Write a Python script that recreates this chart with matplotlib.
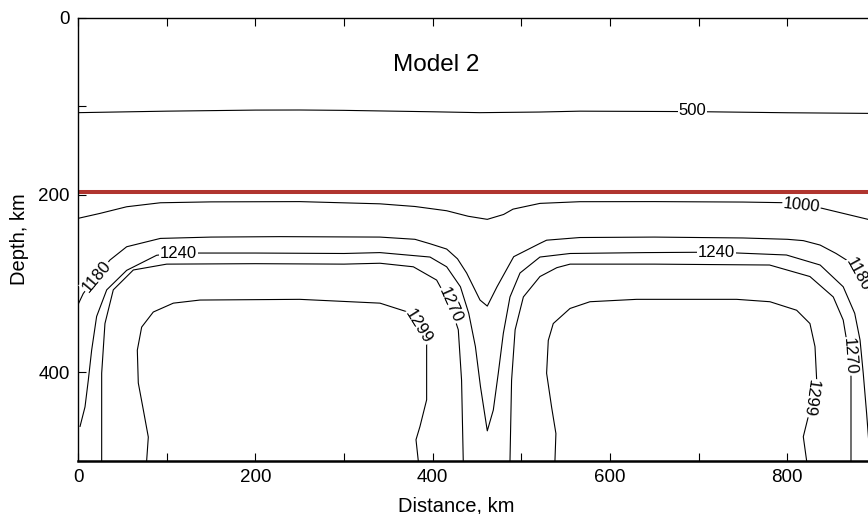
import matplotlib
matplotlib.use('Agg')
import matplotlib.pyplot as plt
from matplotlib.ticker import MultipleLocator

plt.rcParams['font.family'] = ['Liberation Sans', 'DejaVu Sans']

# contour lines: distance (km), depth (km)
c500_x = [0, 100, 200, 250, 300, 400, 453, 520, 566, 693, 800, 891, 900]
c500_d = [107.2, 105.5, 104.3, 104.2, 104.6, 106.2, 107.2, 106.5, 105.5, 106, 107.3, 108, 108.3]

c1000_x = [0, 24.8, 54.9, 92.9, 150, 250, 340.6, 380, 415.8, 440, 461.6, 480, 490.6, 521, 566,
           650, 750, 795, 816, 839, 891, 900]
c1000_d = [226.4, 220.8, 213.3, 208.8, 207.8, 207.5, 210, 213, 217.8, 224, 227.5, 222, 216, 209.5,
           207.6, 207.5, 208, 208.7, 211.5, 215, 227.5, 229.5]

c1180_x = [0.8, 6, 21, 36, 54.9, 92.9, 150, 228, 340.6, 380, 397, 415.8, 428, 438.3, 453.4, 461.6,
           472.6, 491.4, 521, 528.5, 566, 650, 750, 800, 818, 837, 855, 866.8, 878, 891, 900]
c1180_d = [322, 311, 292, 273.4, 258.4, 249, 247.5, 247, 247.5, 250, 255, 261, 272, 288, 318.5, 325.3,
           303.5, 269.6, 254.6, 251, 248, 247.5, 248.5, 250, 251.5, 256.5, 266, 273.4, 288, 307, 322]

c1240_x = [2.3, 7.9, 11.6, 15.4, 21, 32.4, 54.9, 88.7, 113, 200, 300, 340.6, 397, 415.8, 431.3,
           440.7, 448.2, 453.9, 461.6, 468.4, 474, 479.7, 487.2, 498.5, 521, 555, 640, 720, 799,
           837, 863, 876, 882, 885.6, 889.4, 892, 894]
c1240_d = [461, 439, 409, 375, 337, 307, 285, 268, 265.5, 265.5, 266, 265, 270, 281, 303.5,
           333.5, 371, 416, 466, 442.5, 401, 356, 315, 288, 270, 266, 265, 264.5, 267.7,
           279, 303.5, 333.5, 363.6, 401, 446, 480, 500]

c1270a_x = [26.7, 26.7, 30.4, 39.8, 62.4, 100, 200, 300, 340.6, 378.2, 404.5, 419.7, 428.9, 432.6, 434.5]
c1270a_d = [500, 401, 345, 307, 284.6, 278, 277.5, 278, 277, 281, 296, 324, 352, 409, 500]
c1270b_x = [487.2, 489, 493, 502.3, 521, 540, 555, 650, 780, 825.5, 851.8, 863, 869.9, 871.8, 871.8]
c1270b_d = [500, 409, 352, 315, 292, 282, 278, 278, 279, 292, 315, 341, 382, 405, 500]

c1299a_x = [77.4, 79.3, 73.7, 68, 66.9, 71.8, 84.9, 107.5, 137.6, 250, 340.6, 370.6, 383.8, 393.2,
            393.2, 385.7, 381.2, 383.8]
c1299a_d = [500, 473, 442.5, 412, 375, 349, 332, 322, 318.5, 317.7, 322, 331.6, 348.6, 367.3,
            431, 461, 476, 500]
c1299b_x = [537.9, 539, 534.1, 528.5, 530.4, 536, 554.9, 577.4, 630, 742.8, 780.4, 810.5, 825.5,
            831.2, 833.1, 828, 823.6, 818, 821.8]
c1299b_d = [500, 469, 439, 401, 364, 345, 328, 320.4, 317.7, 317.7, 320.4, 330, 345, 371, 409,
            429, 450, 472.6, 500]

# inline contour labels: text, distance, depth, angle
label_text = ['500', '1000', '1180', '1180', '1240', '1240', '1270', '1270', '1299', '1299']
label_x = [693, 816, 21, 880, 113, 720, 419.7, 869.9, 383.8, 826.5]
label_d = [105, 211.5, 292, 290, 265.5, 264.5, 324, 382, 348.6, 429]
label_rot = [0, -6, 50, -61, 0, 0, -66, -86, -58, -98]

moho_depth = 196.5

fig = plt.figure(figsize=(8.68, 5.14), dpi=100)
ax = fig.add_axes([78 / 868, 53 / 514, 798 / 868, 443.4 / 514])

lines = [(c500_x, c500_d), (c1000_x, c1000_d), (c1180_x, c1180_d), (c1240_x, c1240_d),
         (c1270a_x, c1270a_d), (c1270b_x, c1270b_d), (c1299a_x, c1299a_d), (c1299b_x, c1299b_d)]
for xs, ds in lines:
    ax.plot(xs, ds, color='k', lw=0.8, solid_joinstyle='round')

ax.axhline(moho_depth, color='#b0352f', lw=2.9)

for t, x, d, r in zip(label_text, label_x, label_d, label_rot):
    ax.text(x, d, t, fontsize=12, ha='center', va='center', rotation=r,
            rotation_mode='anchor', clip_on=False,
            bbox=dict(boxstyle='square,pad=0.05', fc='white', ec='none'))

ax.text(404, 53, 'Model 2', fontsize=17.5, ha='center', va='center')

ax.set_xlim(0, 900)
ax.set_ylim(500, 0)
ax.xaxis.set_major_locator(MultipleLocator(200))
ax.xaxis.set_minor_locator(MultipleLocator(100))
ax.yaxis.set_major_locator(MultipleLocator(200))
ax.yaxis.set_minor_locator(MultipleLocator(100))
ax.tick_params(which='both', direction='in', length=5.5, width=0.8, top=True, right=True,
               labelsize=13.5, pad=6)
for s in ['top', 'left', 'right']:
    ax.spines[s].set_linewidth(1.0)
ax.spines['bottom'].set_linewidth(1.8)

ax.set_xlabel('Distance, km', fontsize=14.5)
ax.set_ylabel('Depth, km', fontsize=14.5)
ax.xaxis.label.set_va('baseline')
ax.xaxis.set_label_coords(0.4737, -0.1143)
ax.yaxis.label.set_va('center')
ax.yaxis.set_label_coords(-0.0727, 0.5)

fig.savefig('out.png', dpi=100)
